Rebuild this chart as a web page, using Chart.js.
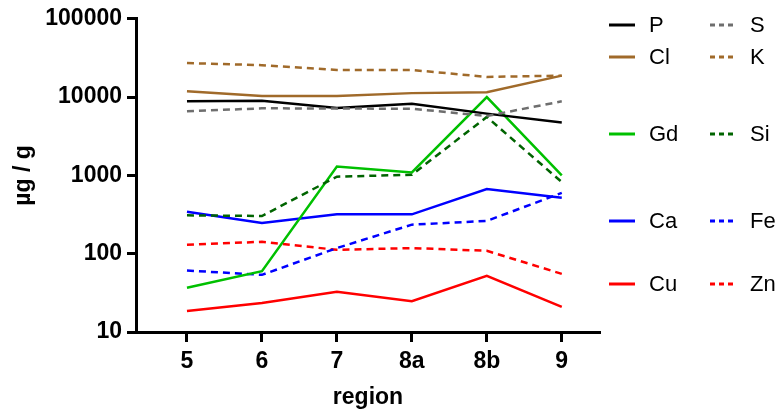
<!DOCTYPE html>
<html lang="en">
<head>
    <meta charset="UTF-8">
    <title>Elements by region</title>
    <script src="https://cdn.jsdelivr.net/npm/chart.js"></script>
    <style>
        html, body { margin: 0; padding: 0; background: #fff; }
        #wrap { width: 780px; height: 412px; }
    </style>
</head>
<body>
    <div id="wrap"><canvas id="chart" width="780" height="412"></canvas></div>

    <script>
        // data (µg / g, log scale)
        const regions = ["5", "6", "7", "8a", "8b", "9"];
        const yTicks = [10, 100, 1000, 10000, 100000];

        const P  = [8830, 9000, 7260, 8220, 6150, 4730];
        const Cl = [11900, 10300, 10300, 11240, 11570, 18800];
        const S  = [6590, 7190, 7150, 7100, 5740, 8830];
        const K  = [27200, 25600, 22200, 22200, 18100, 18800];
        const Gd = [36.8, 59.7, 1300, 1092, 10000, 1000];
        const Si = [309, 303, 963, 1020, 5580, 822];
        const Ca = [343, 247, 318, 318, 671, 517];
        const Fe = [61, 53.7, 118, 235, 262, 597];
        const Zn = [130, 142, 112, 118, 109, 55.3];
        const Cu = [18.6, 23.5, 32.7, 24.7, 52.2, 20.9];

        const FONT = "'Liberation Sans', Arial, sans-serif";
        const DASH = [7, 5];

        function series(label, values, color, dashed) {
            return {
                label: label,
                data: values.map((v, i) => ({ x: i, y: v })),
                borderColor: color,
                backgroundColor: color,
                borderWidth: 2.5,
                borderDash: dashed ? DASH : [],
                pointRadius: 0,
                tension: 0,
                fill: false
            };
        }

        const datasets = [
            series("K", K, "#a06a2a", true),
            series("Cl", Cl, "#a06a2a", false),
            series("S", S, "#6e6e6e", true),
            series("P", P, "#000000", false),
            series("Si", Si, "#006400", true),
            series("Gd", Gd, "#00c000", false),
            series("Fe", Fe, "#0000ff", true),
            series("Ca", Ca, "#0000ff", false),
            series("Zn", Zn, "#ff0000", true),
            series("Cu", Cu, "#ff0000", false)
        ];

        // legend drawn by hand, two columns with uneven row spacing
        const legendRows = [["P", "S"], ["Cl", "K"], ["Gd", "Si"], ["Ca", "Fe"], ["Cu", "Zn"]];
        const legendRowY = [25, 57, 134, 221, 284];
        const legendColX = [609, 710];

        const legendPlugin = {
            id: "sideLegend",
            afterDraw(chart) {
                const ctx = chart.ctx;
                ctx.save();
                ctx.font = "22px " + FONT;
                ctx.textBaseline = "middle";
                legendRows.forEach((row, r) => {
                    row.forEach((name, c) => {
                        const ds = chart.data.datasets.find(d => d.label === name);
                        const x = legendColX[c], y = legendRowY[r];
                        ctx.strokeStyle = ds.borderColor;
                        ctx.lineWidth = 3;
                        ctx.setLineDash(ds.borderDash.length ? [5, 4] : []);
                        ctx.beginPath();
                        ctx.moveTo(x, y);
                        ctx.lineTo(x + 26, y);
                        ctx.stroke();
                        ctx.setLineDash([]);
                        ctx.fillStyle = "#000";
                        ctx.fillText(name, x + 40, y + 1);
                    });
                });
                ctx.restore();
            }
        };

        new Chart(document.getElementById("chart"), {
            type: "line",
            data: { datasets: datasets },
            options: {
                responsive: false,
                animation: false,
                layout: { padding: { left: 0, top: 16, right: 180, bottom: 0 } },
                plugins: { legend: { display: false }, tooltip: { enabled: false } },
                scales: {
                    x: {
                        type: "linear",
                        min: -0.68,
                        max: 5.51,
                        afterBuildTicks: s => { s.ticks = regions.map((r, i) => ({ value: i })); },
                        afterFit: s => { s.height = 80; },
                        ticks: {
                            callback: v => regions[v],
                            color: "#000",
                            padding: 6,
                            maxRotation: 0,
                            font: { family: FONT, size: 23, weight: "bold" }
                        },
                        grid: { drawOnChartArea: false, drawTicks: true, tickLength: 10, tickWidth: 3, tickColor: "#000" },
                        border: { display: true, color: "#000", width: 3 },
                        title: {
                            display: true,
                            text: "region",
                            color: "#000",
                            padding: { top: 0, bottom: 1 },
                            font: { family: FONT, size: 23, weight: "bold" }
                        }
                    },
                    y: {
                        type: "logarithmic",
                        min: 10,
                        max: 100000,
                        afterBuildTicks: s => { s.ticks = yTicks.map(v => ({ value: v })); },
                        afterFit: s => { s.width = 136; },
                        ticks: {
                            callback: v => String(v),
                            color: "#000",
                            padding: 5,
                            font: { family: FONT, size: 23, weight: "bold" }
                        },
                        grid: { drawOnChartArea: false, drawTicks: true, tickLength: 9, tickWidth: 3, tickColor: "#000" },
                        border: { display: true, color: "#000", width: 3 },
                        title: {
                            display: true,
                            text: "µg / g",
                            color: "#000",
                            padding: { top: 10, bottom: 0 },
                            font: { family: FONT, size: 23, weight: "bold" }
                        }
                    }
                }
            },
            plugins: [legendPlugin]
        });
    </script>
</body>
</html>
